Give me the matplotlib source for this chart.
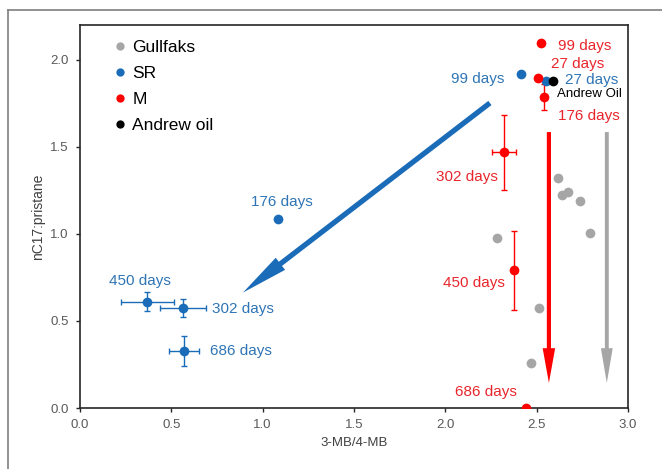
import numpy as np
import matplotlib
matplotlib.use("Agg")
import matplotlib.pyplot as plt
from matplotlib.lines import Line2D

plt.rcParams['font.family'] = ['Liberation Sans', 'DejaVu Sans']

# Gullfaks samples
gf_x = [2.616, 2.638, 2.671, 2.737, 2.791, 2.282, 2.512, 2.469]
gf_y = [1.320, 1.222, 1.239, 1.187, 1.003, 0.974, 0.576, 0.259]

# SR series (27, 99, 176, 302, 450, 686 days)
sr_days = ['27', '99', '176', '302', '450', '686']
sr_x = [2.551, 2.414, 1.084, 0.564, 0.367, 0.569]
sr_y = [1.879, 1.919, 1.084, 0.576, 0.611, 0.329]
sr_xerr = [0, 0, 0, 0.125, 0.145, 0.082]
sr_yerr = [0, 0, 0, 0.052, 0.055, 0.086]

# M series
m_days = ['27', '99', '176', '302', '450', '686']
m_x = [2.507, 2.523, 2.540, 2.321, 2.375, 2.441]
m_y = [1.896, 2.098, 1.787, 1.470, 0.790, 0.000]
m_xerr = [0, 0, 0, 0.068, 0, 0]
m_yerr = [0, 0, 0.075, 0.215, 0.225, 0]

# Andrew oil
ao_x = [2.589]
ao_y = [1.879]

blue = '#1b6cb8'
red = '#ff0000'
grey = '#a6a6a6'
blue_txt = '#2f75b5'
red_txt = '#e8262c'

fig = plt.figure(figsize=(6.62, 4.69), dpi=100)
ax = fig.add_axes([80/662, 1 - 408/469, 548/662, 383/469])

# outer frame
fig.add_artist(Line2D([8/662, 8/662], [-0.1, 1 - 10/469], transform=fig.transFigure,
                      color='#7f7f7f', lw=1.2))
fig.add_artist(Line2D([8/662, 1.1], [1 - 10/469, 1 - 10/469], transform=fig.transFigure,
                      color='#7f7f7f', lw=1.2))

ms = 7
ax.errorbar(sr_x, sr_y, xerr=sr_xerr, yerr=sr_yerr, fmt='none', ecolor=blue,
            elinewidth=1, capsize=2.5, capthick=1, zorder=2)
ax.errorbar(m_x, m_y, xerr=m_xerr, yerr=m_yerr, fmt='none', ecolor=red,
            elinewidth=1, capsize=2.5, capthick=1, zorder=2)
ax.plot(gf_x, gf_y, 'o', color=grey, ms=ms, mec='none', zorder=3, label='Gullfaks')
ax.plot(sr_x, sr_y, 'o', color=blue, ms=ms, mec='none', zorder=3, label='SR')
ax.plot(m_x, m_y, 'o', color=red, ms=ms, mec='none', zorder=4, label='M')
ax.plot(ao_x, ao_y, 'o', color='black', ms=ms, mec='none', zorder=5, label='Andrew oil')

# trend arrows
ax.annotate('', xy=(0.892, 0.663), xytext=(2.244, 1.752),
            arrowprops=dict(arrowstyle='simple,head_length=3.4,head_width=1.1,tail_width=0.38',
                            lw=0, color=blue, shrinkA=0, shrinkB=0, mutation_scale=10), zorder=1)
ax.annotate('', xy=(2.567, 0.144), xytext=(2.567, 1.585),
            arrowprops=dict(arrowstyle='simple,head_length=2.5,head_width=0.9,tail_width=0.3',
                            lw=0, color=red, shrinkA=0, shrinkB=0, mutation_scale=10), zorder=1)
ax.annotate('', xy=(2.884, 0.144), xytext=(2.884, 1.585),
            arrowprops=dict(arrowstyle='simple,head_length=2.5,head_width=0.85,tail_width=0.28',
                            lw=0, color=grey, shrinkA=0, shrinkB=0, mutation_scale=10), zorder=1)

# day labels
labels = [
    ('99 days', 2.321, 1.890, 'right', blue_txt),
    ('27 days', 2.655, 1.885, 'left', blue_txt),
    ('176 days', 0.936, 1.182, 'left', blue_txt),
    ('450 days', 0.159, 0.732, 'left', blue_txt),
    ('302 days', 0.722, 0.571, 'left', blue_txt),
    ('686 days', 0.712, 0.329, 'left', blue_txt),
    ('99 days', 2.616, 2.081, 'left', red_txt),
    ('27 days', 2.578, 1.977, 'left', red_txt),
    ('176 days', 2.616, 1.677, 'left', red_txt),
    ('302 days', 2.288, 1.326, 'right', red_txt),
    ('450 days', 2.326, 0.720, 'right', red_txt),
    ('686 days', 2.053, 0.092, 'left', red_txt),
]
for txt, x, y, ha, c in labels:
    ax.text(x, y, txt, color=c, fontsize=11, ha=ha, va='center', zorder=6)
ax.text(2.611, 1.805, 'Andrew Oil', color='black', fontsize=9.5, ha='left', va='center', zorder=6)

ax.set_xlim(0, 3.0)
ax.set_ylim(0, 2.2)
ax.set_xticks(np.arange(0, 3.01, 0.5))
ax.set_yticks(np.arange(0, 2.01, 0.5))
ax.xaxis.set_major_formatter(matplotlib.ticker.FormatStrFormatter('%.1f'))
ax.yaxis.set_major_formatter(matplotlib.ticker.FormatStrFormatter('%.1f'))
ax.tick_params(labelsize=9.5, labelcolor='#595959', length=3, width=1, pad=5, color='#262626')
for s in ax.spines.values():
    s.set_color('#262626')
    s.set_linewidth(1.2)
ax.set_xlabel('3-MB/4-MB', fontsize=9.5, color='#404040', labelpad=4)
ax.set_ylabel('nC17:pristane', fontsize=10, color='#404040', labelpad=4)

ax.legend(loc='upper left', bbox_to_anchor=(0.064, 0.96), frameon=False, fontsize=12.5,
          handlelength=0.6, handletextpad=0.4, borderpad=0, borderaxespad=0,
          labelspacing=0.62, markerscale=0.85)

fig.savefig('out.png', dpi=100)
